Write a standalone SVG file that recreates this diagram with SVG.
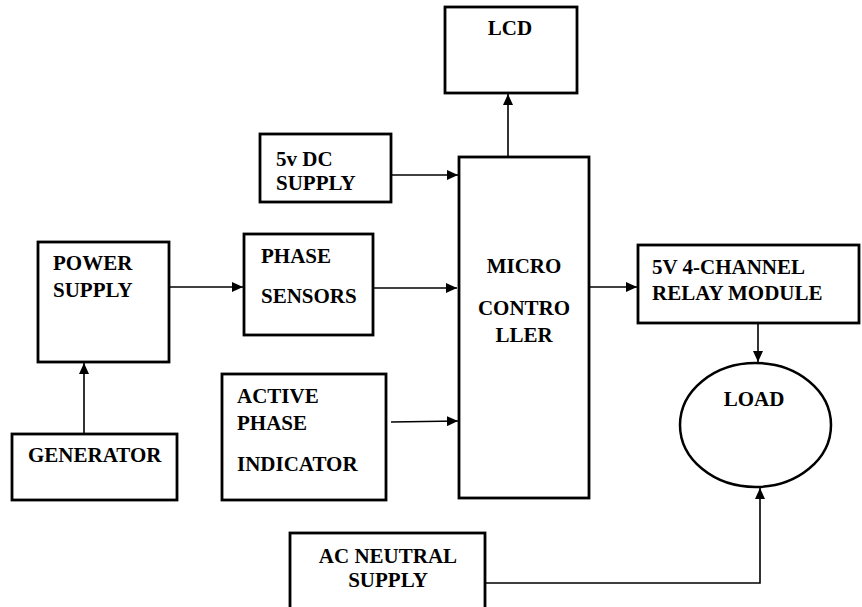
<svg xmlns="http://www.w3.org/2000/svg" width="862" height="607" viewBox="0 0 862 607">
<style>
.box{fill:#fff;stroke:#000;stroke-width:2.8}
text{font-family:'Liberation Serif','Times New Roman',serif;font-weight:bold;font-size:21px;fill:#000}
.c{text-anchor:middle}
.con{fill:none;stroke:#000;stroke-width:1.6}
</style>
<defs>
<marker id="ah" markerUnits="userSpaceOnUse" markerWidth="12" markerHeight="10" refX="11" refY="5" orient="auto">
<path d="M0,0 L11,5 L0,10 Z" fill="#000"/>
</marker>
</defs>
<rect width="862" height="607" fill="#fff"/>
<g id="lcd"><rect class="box" x="445" y="7" width="132" height="86"/><text class="c" x="510" y="35">LCD</text></g>
<g id="dc"><rect class="box" x="260" y="134" width="131" height="68"/><text x="276" y="166">5v DC</text><text x="276" y="190">SUPPLY</text></g>
<g id="mc"><rect class="box" x="459" y="157" width="130" height="341"/><text class="c" x="524" y="273">MICRO</text><text class="c" x="524" y="315">CONTRO</text><text class="c" x="524" y="342">LLER</text></g>
<g id="ps"><rect class="box" x="38" y="242" width="131" height="120"/><text x="53" y="270">POWER</text><text x="53" y="297">SUPPLY</text></g>
<g id="sens"><rect class="box" x="244" y="234" width="129" height="101"/><text x="261" y="263">PHASE</text><text x="261" y="303">SENSORS</text></g>
<g id="relay"><rect class="box" x="638" y="245" width="221" height="78"/><text x="652" y="274">5V 4-CHANNEL</text><text x="652" y="300">RELAY MODULE</text></g>
<g id="load"><ellipse fill="#fff" stroke="#000" stroke-width="2.5" cx="755.5" cy="425" rx="75.5" ry="62"/><text class="c" x="754" y="406">LOAD</text></g>
<g id="api"><rect class="box" x="222" y="374" width="164" height="126"/><text x="237" y="403">ACTIVE</text><text x="237" y="430">PHASE</text><text x="237" y="471">INDICATOR</text></g>
<g id="gen"><rect class="box" x="12" y="434" width="165" height="66"/><text x="28" y="462">GENERATOR</text></g>
<g id="ac"><rect class="box" x="290" y="533" width="195" height="80"/><text class="c" x="388" y="563">AC NEUTRAL</text><text class="c" x="388" y="587">SUPPLY</text></g>
<g id="connectors">
<line class="con" x1="508" y1="157" x2="508" y2="94" marker-end="url(#ah)"/>
<line class="con" x1="391" y1="175" x2="458" y2="175" marker-end="url(#ah)"/>
<line class="con" x1="169" y1="287" x2="243" y2="287" marker-end="url(#ah)"/>
<line class="con" x1="373" y1="288" x2="457" y2="288" marker-end="url(#ah)"/>
<line class="con" x1="589" y1="287" x2="637" y2="287" marker-end="url(#ah)"/>
<line class="con" x1="391" y1="422" x2="458" y2="421" marker-end="url(#ah)"/>
<line class="con" x1="84" y1="434" x2="84" y2="363" marker-end="url(#ah)"/>
<line class="con" x1="758" y1="323" x2="758" y2="362" marker-end="url(#ah)"/>
<polyline class="con" points="485,583 760,583 760,488" marker-end="url(#ah)"/>
</g>
</svg>
